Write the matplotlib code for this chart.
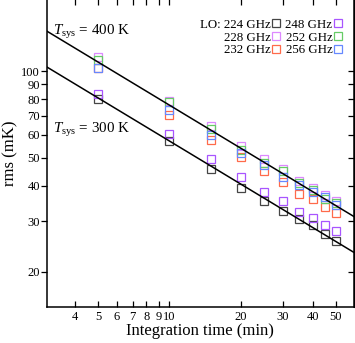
import numpy as np
import matplotlib
matplotlib.use("Agg")
from matplotlib import pyplot as plt
from matplotlib.ticker import FixedLocator, FixedFormatter, NullFormatter, NullLocator

# -----------------------------
# DATA
# -----------------------------
t_min = [5, 10, 15, 20, 25, 30, 35, 40, 45, 50]

lo_labels = ["LO: 224 GHz", "228 GHz", "232 GHz", "248 GHz", "252 GHz", "256 GHz"]
lo_colors = ["#454545", "#dd88ff", "#ff6a4a", "#a855ff", "#66cc66", "#6688ff"]

rms_224 = [79.8, 57.0, 45.8, 39.3, 35.2, 32.7, 30.6, 29.2, 27.2, 25.7]
rms_228 = [112.0, 78.6, 64.3, 55.1, 49.3, 45.5, 41.6, 39.3, 37.2, 35.2]
rms_232 = [103.0, 70.2, 57.8, 50.1, 45.1, 41.0, 37.5, 36.0, 33.7, 32.2]
rms_248 = [83.2, 60.3, 49.6, 43.0, 38.1, 35.2, 32.4, 30.9, 29.2, 27.8]
rms_252 = [109.4, 78.0, 62.7, 53.4, 48.1, 44.8, 40.9, 38.7, 36.0, 34.9]
rms_256 = [102.6, 73.1, 60.2, 52.1, 47.0, 43.0, 40.3, 38.1, 36.6, 34.3]
rms_all = [rms_224, rms_228, rms_232, rms_248, rms_252, rms_256]

# radiometer lines: rms = k * Tsys / sqrt(t)
tsys_list = [400, 300]
k_rad = 0.6025
tsys_text = [r"$T_{\rm sys}$ = 400 K", r"$T_{\rm sys}$ = 300 K"]
tsys_text_pos = [(3.25, 134), (3.25, 61)]

x_ticks = [4, 5, 6, 7, 8, 9, 10, 20, 30, 40, 50]
y_ticks = [20, 30, 40, 50, 60, 70, 80, 90, 100]

# -----------------------------
# SETTINGS
# -----------------------------
plt.rcParams["font.family"] = ["Liberation Serif", "DejaVu Serif"]
plt.rcParams["mathtext.fontset"] = "custom"
plt.rcParams["mathtext.rm"] = "Liberation Serif"
plt.rcParams["mathtext.it"] = "Liberation Serif:italic"

fig = plt.figure(figsize=(3.55, 3.43), dpi=100)
ax = fig.add_axes([0.132, 0.105, 0.864, 0.898])

for rms, col, lab in zip(rms_all, lo_colors, lo_labels):
    ax.plot(t_min, rms, ls="none", marker="s", ms=5.8, mfc="none",
            mec=col, mew=0.9, label=lab)

t_line = np.array([3.0, 60.0])
for tsys in tsys_list:
    ax.plot(t_line, k_rad * tsys / np.sqrt(t_line), color="black", lw=1.1)

for txt, pos in zip(tsys_text, tsys_text_pos):
    ax.text(pos[0], pos[1], txt, fontsize=10.8)

ax.set_xscale("log")
ax.set_yscale("log")
ax.set_xlim(3.05, 59.5)
ax.set_ylim(15.1, 178.6)

ax.xaxis.set_major_locator(FixedLocator(x_ticks))
ax.xaxis.set_major_formatter(FixedFormatter([str(v) for v in x_ticks]))
ax.xaxis.set_minor_locator(NullLocator())
ax.yaxis.set_major_locator(FixedLocator(y_ticks))
ax.yaxis.set_major_formatter(FixedFormatter([str(v) for v in y_ticks]))
ax.yaxis.set_minor_locator(NullLocator())

ax.tick_params(axis="x", direction="in", length=4, width=0.9, labelsize=9, pad=3)
ax.tick_params(axis="y", direction="out", length=4, width=0.9, labelsize=9, pad=1)

# inward ticks on top and right
top = ax.secondary_xaxis("top")
top.set_xscale("log")
top.xaxis.set_major_locator(FixedLocator(x_ticks))
top.xaxis.set_minor_locator(NullLocator())
top.xaxis.set_major_formatter(NullFormatter())
top.tick_params(direction="in", length=4, width=0.9)
right = ax.secondary_yaxis("right")
right.yaxis.set_major_locator(FixedLocator(y_ticks))
right.yaxis.set_minor_locator(NullLocator())
right.yaxis.set_major_formatter(NullFormatter())
right.tick_params(direction="in", length=4, width=0.9)

for s in ax.spines.values():
    s.set_linewidth(1.1)

ax.set_xlabel("Integration time (min)", fontsize=12, labelpad=0)
ax.set_ylabel("rms (mK)", fontsize=12, labelpad=2)

ax.legend(ncol=2, loc="upper right", bbox_to_anchor=(0.99, 0.965), frameon=False,
          markerfirst=False, fontsize=9.3, handlelength=0.6, handletextpad=0.1,
          columnspacing=0.4, labelspacing=0.05, borderaxespad=0.3)

fig.savefig("out.png", dpi=100)
